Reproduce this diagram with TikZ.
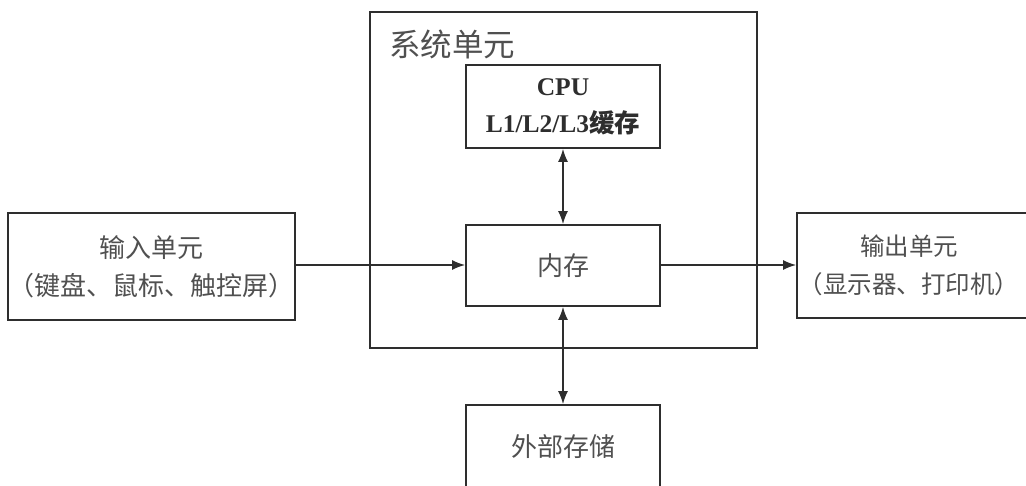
\documentclass[tikz,border=0pt]{standalone}
\usepackage{fontspec}
\setmainfont{Liberation Serif}
\newfontfamily\cjk{Noto Sans CJK SC}
\usetikzlibrary{arrows.meta}
\definecolor{linec}{HTML}{2E2E2E}
\definecolor{textc}{HTML}{505050}
\tikzset{
  box/.style={draw=linec, line width=1.8pt, rectangle, inner sep=0pt, align=center,
    text=textc, font=\cjk\fontsize{26}{38}\selectfont},
  lbl/.style={inner sep=0pt, align=center, text=textc, font=\cjk\fontsize{26}{38}\selectfont},
  conn/.style={draw=linec, line width=1.5pt, -{Latex[length=13pt,width=10pt]}},
  bconn/.style={draw=linec, line width=1.5pt, {Latex[length=13pt,width=10pt]}-{Latex[length=13pt,width=10pt]}},
}
\begin{document}
\begin{tikzpicture}[x=1pt,y=-1pt]
\useasboundingbox (0,0) rectangle (1026,486);
\fill[white] (0,0) rectangle (1026,486);
% system unit
\node[box, minimum width=387pt, minimum height=336pt] (sys) at (563.5,180) {};
\node[anchor=west, text=textc, font=\cjk\fontsize{31.5}{36}\selectfont, inner sep=0pt] (syslabel) at (389,44) {系统单元};
% cpu
\node[box, minimum width=194pt, minimum height=83pt, font=\bfseries\fontsize{25.5}{37}\selectfont, text=linec] (cpu) at (563,106.5) {CPU\\L1/L2/L3{\cjk\bfseries 缓存}};
% memory
\node[box, minimum width=194pt, minimum height=81pt] (mem) at (563,265.5) {内存};
% input
\node[box, minimum width=287pt, minimum height=107pt] (in) at (151.5,266.5) {输入单元\\（键盘、鼠标、触控屏）};
% output
\node[box, minimum width=233pt, minimum height=105pt] (out) at (913.5,265.5) {};
\node[lbl, font=\cjk\fontsize{24.5}{38}\selectfont] (outlabel) at (909,265.5) {输出单元\\（显示器、打印机）};
% external storage
\node[box, minimum width=194pt, minimum height=110pt] (ext) at (563,460) {};
\node[lbl] (extlabel) at (563,447) {外部存储};
% connectors
\draw[conn] (in.east |- 0,265) -- (mem.west |- 0,265);
\draw[conn] (mem.east |- 0,265) -- (out.west |- 0,265);
\draw[bconn] (cpu.south) -- (mem.north);
\draw[bconn] (mem.south) -- (ext.north);
\end{tikzpicture}
\end{document}
